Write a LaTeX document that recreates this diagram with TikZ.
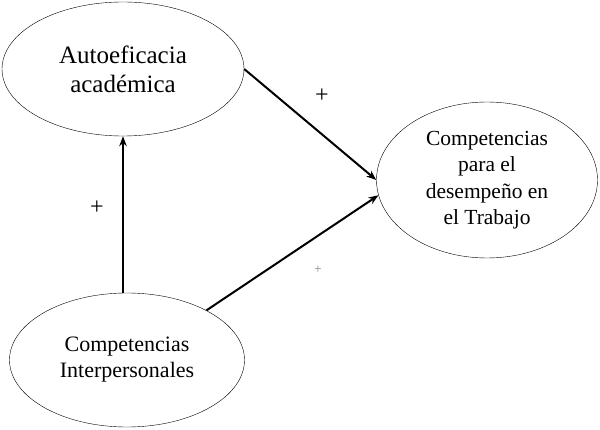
\documentclass[tikz,border=0pt]{standalone}
\usepackage{fontspec}
\setmainfont{Liberation Serif}
\usetikzlibrary{shapes.geometric,arrows.meta}

\begin{document}
\begin{tikzpicture}[x=1pt, y=-1pt,
    construct/.style={ellipse, draw, thin, inner sep=0pt, align=center},
    arr/.style={-{Stealth[length=10pt,width=7.5pt]}, line width=2pt},
    sign/.style={font=\fontsize{24}{26}\selectfont}]
    \useasboundingbox (0,0) rectangle (600,430);

    % Constructs
    \node[construct, minimum width=242pt, minimum height=134pt,
          font=\fontsize{25}{29}\selectfont] (auto) at (123,69)
        {Autoeficacia\\acad\'emica};
    \node[construct, minimum width=221pt, minimum height=156pt,
          font=\fontsize{21.5}{26.5}\selectfont] (desemp) at (487,180)
        {Competencias\\para el\\desempe\~no en\\el Trabajo};
    \node[construct, minimum width=235pt, minimum height=134pt,
          font=\fontsize{22}{26}\selectfont] (inter) at (127,360)
        {Competencias\\Interpersonales};

    % Paths
    \draw[arr] (inter.north -| auto.south) -- (auto.south);
    \draw[arr] (auto.east) -- (desemp.west);
    \draw[arr] (inter.32) -- (desemp.188);

    % Signs
    \node[sign] (s1) at (322,96) {+};
    \node[sign] (s2) at (97,208) {+};
    \node[font=\fontsize{13}{15}\selectfont, gray] (s3) at (318,270) {+};
\end{tikzpicture}
\end{document}
